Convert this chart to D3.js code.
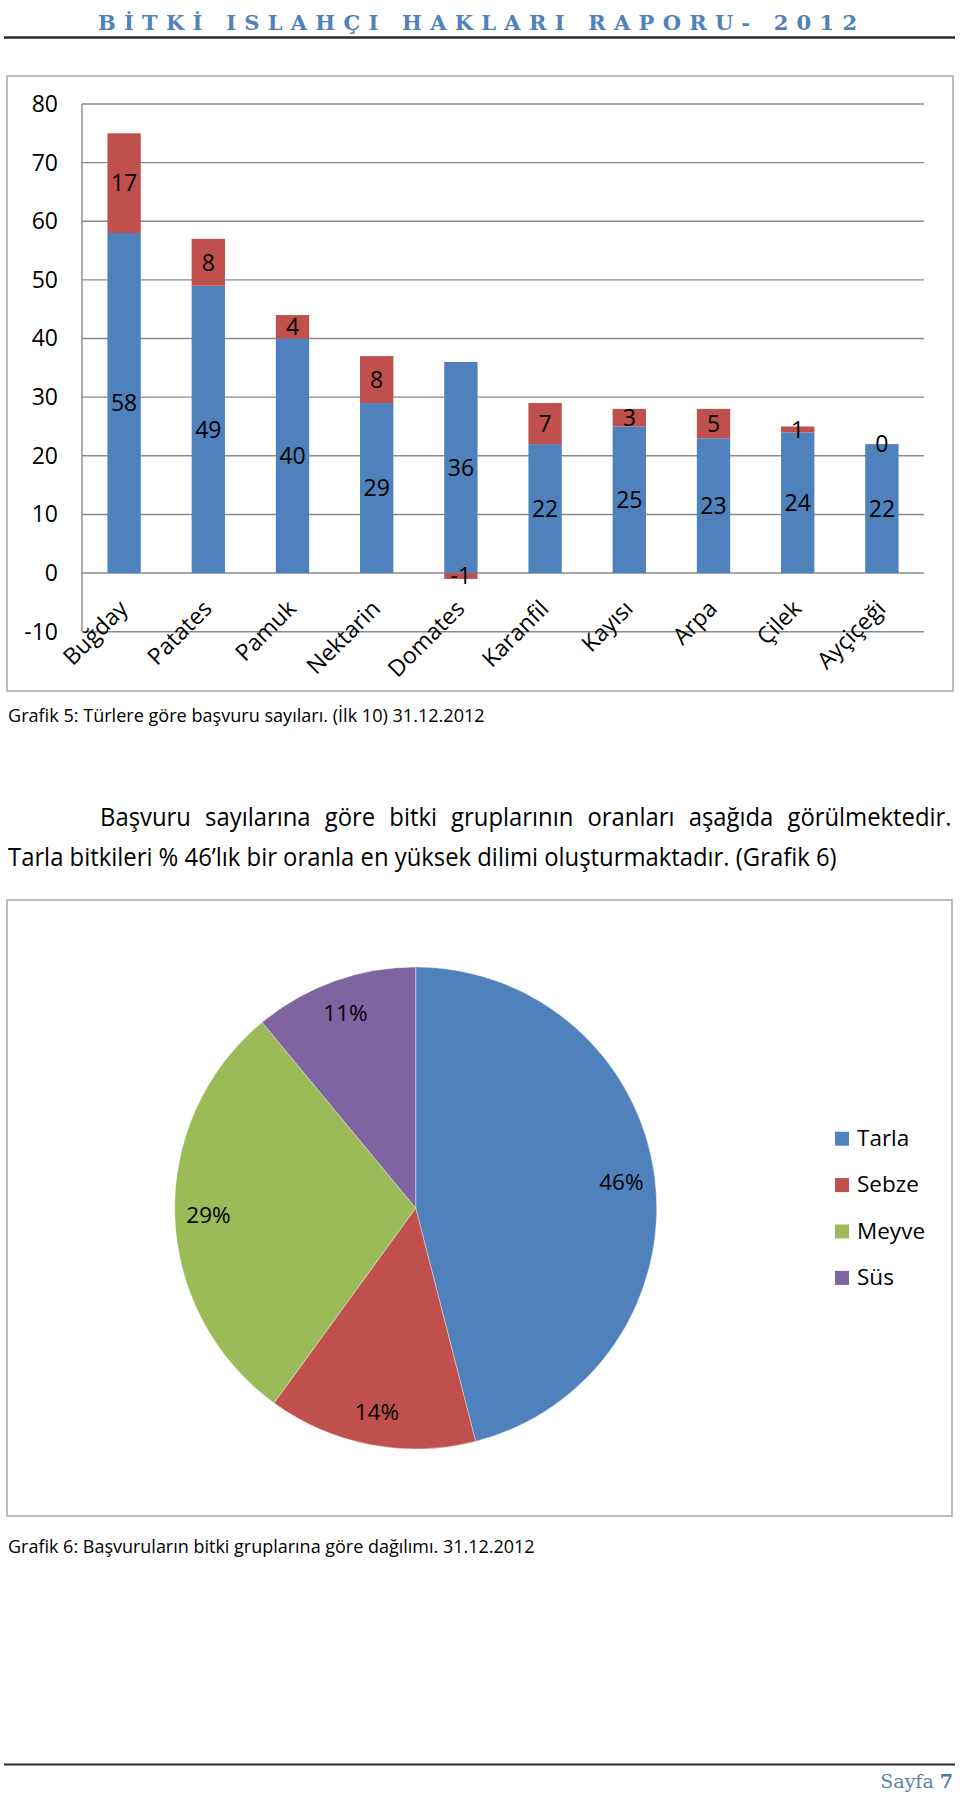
<!DOCTYPE html>
<html><head><meta charset="utf-8">
<script src="https://cdn.jsdelivr.net/npm/d3@7"></script>
<style>
html,body{margin:0;padding:0;background:#fff;}
svg{display:block;}
</style></head>
<body>
<script>
// ---- data ----
const categories = ["Buğday","Patates","Pamuk","Nektarin","Domates","Karanfil","Kayısı","Arpa","Çilek","Ayçiçeği"];
const seriesBlue = [58,49,40,29,36,22,25,23,24,22];
const seriesRed  = [17,8,4,8,-1,7,3,5,1,0];
const yTicks = [-10,0,10,20,30,40,50,60,70,80];

const pieGroups = ["Tarla","Sebze","Meyve","Süs"];
const pieShares = [46,14,29,11];

const headerText = "BİTKİ ISLAHÇI HAKLARI RAPORU- 2012";
const caption5 = "Grafik 5: Türlere göre başvuru sayıları. (İlk 10) 31.12.2012";
const para1 = "Başvuru sayılarına göre bitki gruplarının oranları aşağıda görülmektedir.";
const para2 = "Tarla bitkileri % 46’lık bir oranla en yüksek dilimi oluşturmaktadır. (Grafik 6)";
const caption6 = "Grafik 6: Başvuruların bitki gruplarına göre dağılımı. 31.12.2012";

const BLUE = "#4F81BD", RED = "#C0504D", GREEN = "#9BBB59", PURPLE = "#8064A2";
const pieColors = [BLUE, RED, GREEN, PURPLE];
const FONT = "'Open Sans', sans-serif";

const W = 960, H = 1802;
const svg = d3.select("body").append("svg").attr("width", W).attr("height", H);

// ---- page header ----
svg.append("text").attr("x", 98).attr("y", 30)
  .attr("font-family", "'DejaVu Serif', serif").attr("font-weight", "bold")
  .attr("font-size", 21).attr("fill", BLUE)
  .attr("textLength", 759).attr("lengthAdjust", "spacing")
  .text(headerText);
svg.append("line").attr("x1", 4).attr("x2", 955).attr("y1", 37.5).attr("y2", 37.5)
  .attr("stroke", "#2b2b2b").attr("stroke-width", 2.5);

// ---- bar chart ----
svg.append("rect").attr("x", 7).attr("y", 76).attr("width", 946).attr("height", 615)
  .attr("fill", "#fff").attr("stroke", "#a6a6a6").attr("stroke-width", 1.5);

const x = d3.scaleBand().domain(categories).range([82, 924]).paddingInner(0.604).paddingOuter(0.302);
const y = d3.scaleLinear().domain([-10, 80]).range([631.7, 104]);

const g = svg.append("g");
g.selectAll("line.grid").data(yTicks).join("line").attr("class", "grid")
  .attr("x1", 82).attr("x2", 924).attr("y1", d => y(d)).attr("y2", d => y(d))
  .attr("stroke", "#8a8a8a").attr("stroke-width", 1.4);
g.append("line").attr("x1", 82).attr("x2", 82).attr("y1", y(80)).attr("y2", y(-10))
  .attr("stroke", "#8a8a8a").attr("stroke-width", 1.4);

const rows = categories.map((c, i) => {
  const b = seriesBlue[i], r = seriesRed[i];
  return {c, b, r, b0: 0, b1: b, r0: r >= 0 ? b : 0, r1: r >= 0 ? b + r : r};
});

g.selectAll("rect.blue").data(rows).join("rect").attr("class", "blue")
  .attr("x", d => x(d.c)).attr("width", x.bandwidth())
  .attr("y", d => y(Math.max(d.b0, d.b1))).attr("height", d => Math.abs(y(d.b0) - y(d.b1)))
  .attr("fill", BLUE);
g.selectAll("rect.red").data(rows).join("rect").attr("class", "red")
  .attr("x", d => x(d.c)).attr("width", x.bandwidth())
  .attr("y", d => y(Math.max(d.r0, d.r1))).attr("height", d => Math.abs(y(d.r0) - y(d.r1)))
  .attr("fill", RED);

g.selectAll("text.lb").data(rows).join("text").attr("class", "lb")
  .attr("x", d => x(d.c) + x.bandwidth() / 2).attr("y", d => y((d.b0 + d.b1) / 2))
  .attr("dy", "0.36em").attr("text-anchor", "middle")
  .attr("font-family", FONT).attr("font-size", 23).attr("fill", "#000")
  .text(d => d.b);
g.selectAll("text.lr").data(rows).join("text").attr("class", "lr")
  .attr("x", d => x(d.c) + x.bandwidth() / 2).attr("y", d => y((d.r0 + d.r1) / 2))
  .attr("dy", "0.36em").attr("text-anchor", "middle")
  .attr("font-family", FONT).attr("font-size", 23).attr("fill", "#000")
  .text(d => d.r);

const yAxis = g.append("g").attr("transform", "translate(82,0)")
  .call(d3.axisLeft(y).tickValues(yTicks).tickFormat(d => String(d)).tickSize(0).tickPadding(24));
yAxis.select(".domain").remove();
yAxis.selectAll("text").attr("font-family", FONT).attr("font-size", 23).attr("fill", "#000");

const xAxis = g.append("g").attr("transform", `translate(0,${y(0)})`)
  .call(d3.axisBottom(x).tickSize(0));
xAxis.select(".domain").remove();
xAxis.selectAll("text").attr("font-family", FONT).attr("font-size", 23).attr("fill", "#000")
  .attr("y", 0).attr("dy", 0).attr("text-anchor", "end")
  .attr("transform", "translate(5,37) rotate(-45)");

// caption 5
function fitWidth(sel, x0, yb, target) {
  const n = sel.node();
  const w = n.getComputedTextLength();
  const s = target / w;
  sel.attr("x", 0).attr("y", 0).attr("transform", `translate(${x0},${yb}) scale(${s},1)`);
  return s;
}
const c5 = svg.append("text").attr("font-family", FONT).attr("font-size", 18.5).attr("fill", "#000").text(caption5);
fitWidth(c5, 8, 721.5, 477);

// paragraph
const p2 = svg.append("text").attr("font-family", FONT).attr("font-size", 26).attr("fill", "#000").text(para2);
const s2 = fitWidth(p2, 8, 866, 829);
const p1 = svg.append("text").attr("font-family", FONT).attr("font-size", 26).attr("fill", "#000").text(para1);
{
  const w1 = p1.node().getComputedTextLength();
  const nSp = para1.split(" ").length - 1;
  const target = 952 - 100;
  const ws = (target / s2 - w1) / nSp;
  p1.attr("word-spacing", ws).attr("x", 0).attr("y", 0)
    .attr("transform", `translate(100,826) scale(${s2},1)`);
}

// ---- pie chart ----
svg.append("rect").attr("x", 7).attr("y", 900).attr("width", 945).attr("height", 616)
  .attr("fill", "#fff").attr("stroke", "#a6a6a6").attr("stroke-width", 1.5);

const cx = 415.7, cy = 1208, R = 241;
const pieData = pieGroups.map((k, i) => ({k, v: pieShares[i], c: pieColors[i]}));
const arcs = d3.pie().sort(null).value(d => d.v)(pieData);
const arc = d3.arc().innerRadius(0).outerRadius(R);
const labelArc = d3.arc().innerRadius(R * 0.86).outerRadius(R * 0.86);
const pg = svg.append("g").attr("transform", `translate(${cx},${cy})`);
pg.selectAll("path").data(arcs).join("path").attr("d", arc)
  .attr("fill", d => d.data.c).attr("stroke", "#ffffff").attr("stroke-width", 0.6).attr("stroke-opacity", 0.6);
pg.selectAll("text").data(arcs).join("text")
  .attr("transform", d => { const [a, b] = labelArc.centroid(d); return `translate(${a},${b})`; })
  .attr("text-anchor", "middle").attr("dy", "0.36em")
  .attr("font-family", FONT).attr("font-size", 22.5).attr("fill", "#000")
  .text(d => d.data.v + "%");

const lg = svg.append("g");
const legY = d3.scaleLinear().domain([0, 1]).range([1145.7, 1192.1]);
lg.selectAll("rect").data(pieData).join("rect")
  .attr("x", 835).attr("y", (d, i) => legY(i) - 14).attr("width", 14).attr("height", 14)
  .attr("fill", d => d.c);
lg.selectAll("text").data(pieData).join("text")
  .attr("x", 857).attr("y", (d, i) => legY(i))
  .attr("font-family", FONT).attr("font-size", 22.5).attr("fill", "#000")
  .text(d => d.k);

const c6 = svg.append("text").attr("font-family", FONT).attr("font-size", 18.5).attr("fill", "#000").text(caption6);
fitWidth(c6, 8, 1553, 527);

// ---- footer ----
svg.append("line").attr("x1", 4).attr("x2", 955).attr("y1", 1764.5).attr("y2", 1764.5)
  .attr("stroke", "#2b2b2b").attr("stroke-width", 2);
const ft = svg.append("text").attr("x", 953).attr("y", 1788).attr("text-anchor", "end")
  .attr("font-family", "'DejaVu Serif', serif").attr("font-size", 19);
ft.append("tspan").attr("fill", "#5b7fab").text("Sayfa ");
ft.append("tspan").attr("fill", "#4a76ad").attr("font-weight", "bold").text("7");
</script>
</body></html>
